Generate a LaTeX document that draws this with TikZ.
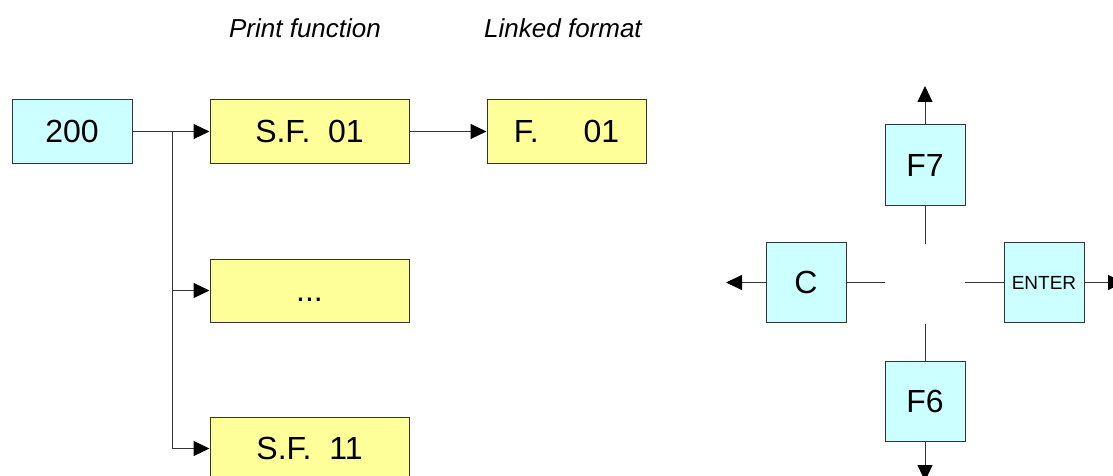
\documentclass[tikz,border=0pt]{standalone}
\usepackage{fontspec}
\setmainfont{Liberation Sans}
\usetikzlibrary{arrows.meta}
\definecolor{keycyan}{HTML}{CCFFFF}
\definecolor{menuyellow}{HTML}{FFFF99}
\definecolor{edgegray}{HTML}{333333}
\tikzset{
  boxbase/.style={draw=edgegray, line width=1pt, inner sep=0pt, font=\fontsize{32}{38}\selectfont},
  codebox/.style={boxbase, fill=keycyan, minimum width=120pt, minimum height=63pt},
  menubox/.style={boxbase, fill=menuyellow, minimum width=199pt, minimum height=63pt},
  fmtbox/.style={boxbase, fill=menuyellow, minimum width=159pt, minimum height=63pt},
  keybox/.style={boxbase, fill=keycyan, minimum width=80pt, minimum height=80pt},
  headtext/.style={font=\itshape\fontsize{26}{31}\selectfont},
  link/.style={draw=edgegray, line width=1pt},
  arr/.style={link, -{Triangle[length=16pt,width=15pt,color=black]}}
}
\begin{document}
\begin{tikzpicture}[x=1pt,y=-1pt]
\useasboundingbox (0,0) rectangle (1113,476);
\node[headtext] (hprint) at (305,28) {Print function};
\node[headtext] (hlinked) at (563,28) {Linked format};
\node[codebox] (n200) at (72,131.5) {200};
\node[menubox] (sf01) at (309.5,131.5) {S.F.\ \ 01};
\node[fmtbox] (f01) at (566.5,131.5) {F.\hspace{45pt}01};
\node[menubox] (sfdots) at (309.5,290.5) {\vphantom{S}...};
\node[menubox] (sf11) at (309.5,448.5) {S.F.\ \ 11};
\coordinate (trunk) at (172,131.5);
\draw[arr] (n200.east) -- (sf01.west);
\draw[arr] (sf01.east) -- (f01.west);
\draw[arr] (trunk) |- (sfdots.west);
\draw[arr] (trunk) |- (sf11.west);
\node[keybox] (kF7) at (925,165) {F7};
\node[keybox] (kC) at (806,282.5) {C};
\node[keybox, font=\fontsize{19}{23}\selectfont] (kEnter) at (1044,282.5) {ENTER};
\node[keybox] (kF6) at (925,401.5) {F6};
\coordinate (hubN) at (925,244);
\coordinate (hubW) at (885,282.5);
\coordinate (hubE) at (965,282.5);
\coordinate (hubS) at (925,324);
\coordinate (outN) at (925,86);
\coordinate (outW) at (726,282.5);
\coordinate (outE) at (1124,282.5);
\coordinate (outS) at (925,481);
\draw[link] (kF7.south) -- (hubN);
\draw[link] (kC.east) -- (hubW);
\draw[link] (kEnter.west) -- (hubE);
\draw[link] (kF6.north) -- (hubS);
\draw[arr] (kF7.north) -- (outN);
\draw[arr] (kC.west) -- (outW);
\draw[arr] (kEnter.east) -- (outE);
\draw[arr] (kF6.south) -- (outS);
\end{tikzpicture}
\end{document}
